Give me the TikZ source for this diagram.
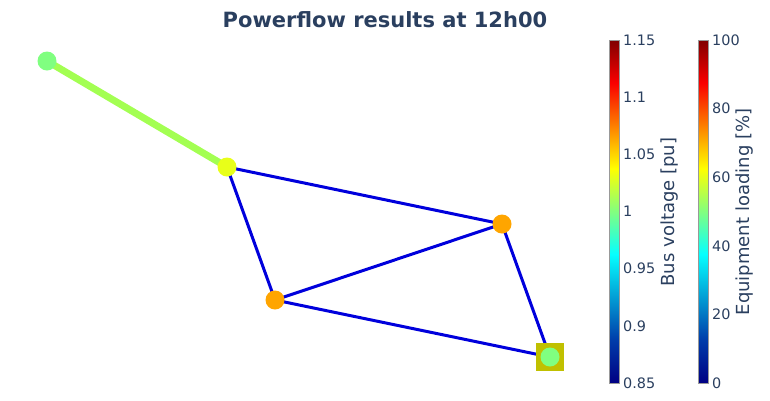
\documentclass[tikz,border=0pt]{standalone}
\usepackage{fontspec}
\setmainfont{DejaVu Sans}
\usepackage{xcolor}
\usepackage{tikz}
\usetikzlibrary{backgrounds}

\definecolor{plotfont}{RGB}{42,63,95}
\definecolor{jetA}{RGB}{0,0,131}
\definecolor{jetB}{RGB}{0,60,170}
\definecolor{jetC}{RGB}{5,255,255}
\definecolor{jetD}{RGB}{255,255,0}
\definecolor{jetE}{RGB}{250,0,0}
\definecolor{jetF}{RGB}{128,0,0}
\definecolor{busgreen}{RGB}{128,255,128}
\definecolor{busyellow}{RGB}{232,255,25}
\definecolor{busorange}{RGB}{255,165,0}
\definecolor{extgrid}{RGB}{192,192,0}
\definecolor{loadgreen}{RGB}{163,255,82}
\definecolor{loadblue}{RGB}{0,0,220}

\pgfdeclareverticalshading{jet}{100bp}{color(0bp)=(jetA); color(25bp)=(jetA);
  color(31.25bp)=(jetB); color(43.75bp)=(jetC); color(56.25bp)=(jetD);
  color(68.75bp)=(jetE); color(75bp)=(jetF); color(100bp)=(jetF)}

\begin{document}
\begin{tikzpicture}[
  x=1pt, y=-1pt,
  bus/.style={circle, inner sep=0pt, minimum size=19pt},
  extbox/.style={rectangle, inner sep=0pt, minimum size=28pt, fill=extgrid},
  line/.style={line width=3pt, loadblue},
  tick/.style={anchor=west, inner sep=0pt, text=plotfont,
               font=\fontsize{14.4}{16}\selectfont},
  axtitle/.style={rotate=90, inner sep=0pt, text=plotfont,
                  font=\fontsize{18}{20}\selectfont},
  cbar/.style={shading=jet, draw=gray!80, line width=0.8pt}
]
\useasboundingbox (0,0) rectangle (770,400);

\node[text=plotfont, font=\fontsize{21}{24}\selectfont\bfseries] (title) at (385,20)
  {Powerflow results at 12h00};

% buses
\node[extbox] (ext) at (550,357) {};
\node[bus, fill=busgreen] (b0) at (47,61) {};
\node[bus, fill=busyellow] (b1) at (227,167) {};
\node[bus, fill=busorange] (b2) at (502,224) {};
\node[bus, fill=busorange] (b3) at (275,300) {};
\node[bus, fill=busgreen] (b4) at (550,357) {};

% lines
\begin{scope}[on background layer]
\draw[line, line width=7pt, loadgreen] (b0.center) -- (b1.center);
\draw[line] (b1.center) -- (b2.center);
\draw[line] (b1.center) -- (b3.center);
\draw[line] (b3.center) -- (b2.center);
\draw[line] (b3.center) -- (b4.center);
\draw[line] (b2.center) -- (b4.center);
\end{scope}

% colour bars
\shade[cbar] (609,383) rectangle (619,40);
\shade[cbar] (698,383) rectangle (708,40);
\foreach \v [count=\i from 0] in {0.85,0.9,0.95,1,1.05,1.1,1.15}
  \node[tick] (vt\i) at (623,383-57.17*\i) {\v};
\foreach \v [count=\i from 0] in {0,20,40,60,80,100}
  \node[tick] (lt\i) at (712,383-68.6*\i) {\v};
\node[axtitle] (vtitle) at (670,212) {Bus voltage [pu]};
\node[axtitle] (ltitle) at (745,212) {Equipment loading [\%]};
\end{tikzpicture}
\end{document}
